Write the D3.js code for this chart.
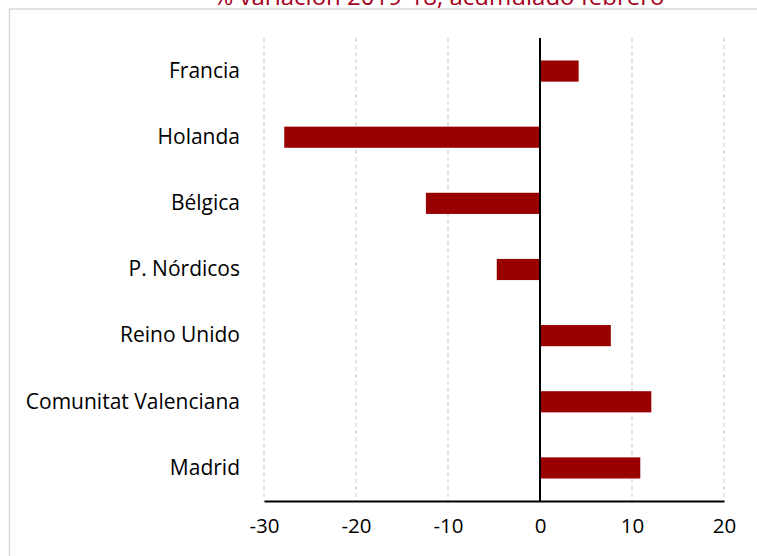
<!DOCTYPE html>
<html lang="es">
<head>
<meta charset="UTF-8">
<title>% variación 2019-18</title>
<style>
  body { margin: 0; background: #fff; }
  .eje text { font-family: "Open Sans", Lato, sans-serif; fill: #000; }
  .rejilla line { stroke: #d9d9d9; stroke-width: 1.5; stroke-dasharray: 4 3; }
</style>
<script src="https://cdn.jsdelivr.net/npm/d3@7"></script>
</head>
<body>
<script>
// Datos: % variación 2019-18, acumulado febrero
var regiones = ["Francia", "Holanda", "Bélgica", "P. Nórdicos", "Reino Unido", "Comunitat Valenciana", "Madrid"];
var variacion = [4.2, -27.8, -12.4, -4.7, 7.7, 12.1, 10.9];
var marcas = [-30, -20, -10, 0, 10, 20];
var titulo = "% variación 2019-18, acumulado febrero";

var ancho = 757, alto = 556;
var margen = { izq: 264, der: 33, sup: 38, inf: 55 };

var svg = d3.select("body").append("svg")
  .attr("width", ancho)
  .attr("height", alto);

// marco del gráfico (se sale por la derecha y abajo)
svg.append("rect")
  .attr("x", 9.5).attr("y", 9)
  .attr("width", 800).attr("height", 600)
  .attr("fill", "none")
  .attr("stroke", "#d9d9d9")
  .attr("stroke-width", 1.5);

// título, recortado por arriba
svg.append("text")
  .attr("x", 439).attr("y", 5)
  .attr("text-anchor", "middle")
  .style("font-family", "'Open Sans', Lato, sans-serif")
  .style("font-size", "24px")
  .style("fill", "#a50021")
  .text(titulo);

var x = d3.scaleLinear()
  .domain([-30, 20])
  .range([margen.izq, ancho - margen.der]);

var y = d3.scaleBand()
  .domain(regiones)
  .range([margen.sup, alto - margen.inf])
  .paddingInner(0.68)
  .paddingOuter(0.34);

// rejilla vertical discontinua
svg.append("g").attr("class", "rejilla")
  .selectAll("line")
  .data(marcas.filter(function(d) { return d !== 0; }))
  .enter().append("line")
  .attr("x1", function(d) { return x(d); })
  .attr("x2", function(d) { return x(d); })
  .attr("y1", margen.sup)
  .attr("y2", alto - margen.inf);

// barras
svg.append("g")
  .selectAll("rect")
  .data(regiones)
  .enter().append("rect")
  .attr("x", function(d, i) { return x(Math.min(0, variacion[i])); })
  .attr("width", function(d, i) { return Math.abs(x(variacion[i]) - x(0)); })
  .attr("y", function(d) { return y(d); })
  .attr("height", y.bandwidth())
  .attr("fill", "#990000");

// eje X (abajo)
var ejeX = svg.append("g").attr("class", "eje")
  .attr("transform", "translate(0," + (alto - margen.inf) + ")")
  .call(d3.axisBottom(x).tickValues(marcas).tickSize(0).tickPadding(17)
    .tickFormat(function(d) { return String(d); }));
ejeX.select(".domain").attr("stroke", "#000").attr("stroke-width", 2);
ejeX.selectAll("text").style("font-size", "20.5px");

// línea del cero
svg.append("line")
  .attr("x1", x(0)).attr("x2", x(0))
  .attr("y1", margen.sup).attr("y2", alto - margen.inf)
  .attr("stroke", "#000").attr("stroke-width", 2);

// etiquetas de categorías
var ejeY = svg.append("g").attr("class", "eje")
  .attr("transform", "translate(" + 240 + ",0)")
  .call(d3.axisLeft(y).tickSize(0).tickPadding(0));
ejeY.select(".domain").remove();
ejeY.selectAll("text").style("font-size", "21px");
</script>
</body>
</html>
